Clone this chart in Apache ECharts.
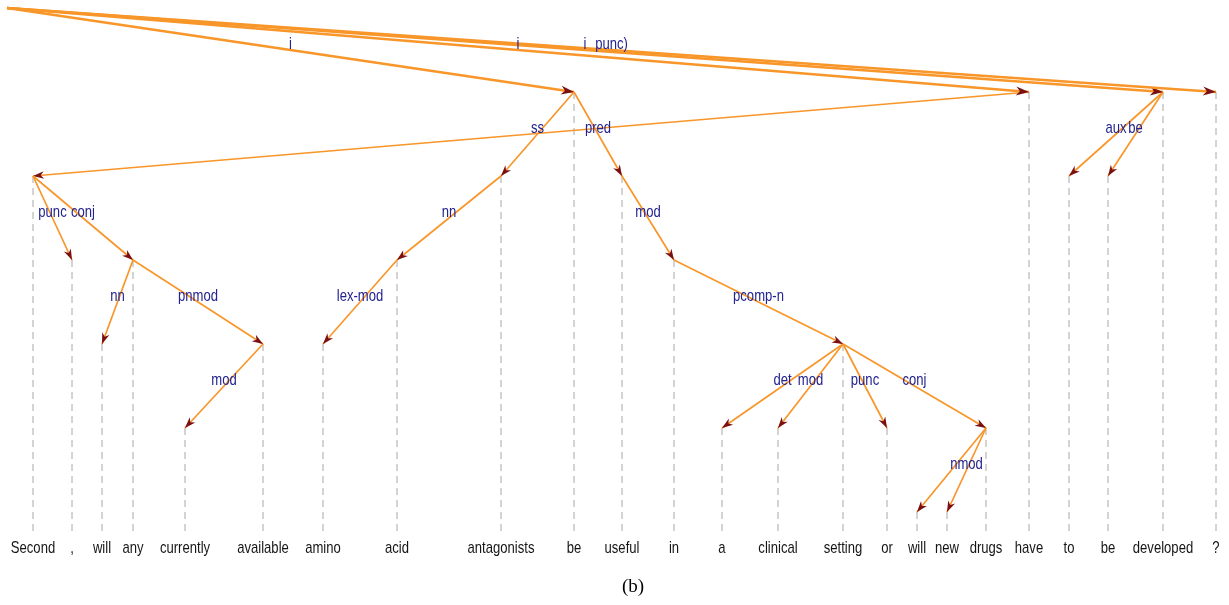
<!DOCTYPE html>
<html>
<head>
<meta charset="utf-8">
<script src="https://cdn.jsdelivr.net/npm/echarts@6/dist/echarts.min.js"></script>
<style>html,body{margin:0;padding:0;background:#fff}#c{width:1229px;height:605px}</style>
</head>
<body>
<div id="c"></div>
<script>
// ---- data ----
const words = ["Second", ",", "will", "any", "currently", "available", "amino", "acid", "antagonists", "be", "useful", "in", "a", "clinical", "setting", "or", "will", "new", "drugs", "have", "to", "be", "developed", "?"];
// token position along the sentence axis
const tokenPos = [33, 72, 102, 133, 185, 263, 323, 397, 501, 574, 622, 674, 722, 778, 843, 887, 917, 947, 986, 1029, 1069, 1108, 1163, 1216];
// head of each token (1-based index, 0 = root)
const heads = [20, 1, 4, 1, 6, 4, 8, 9, 10, 0, 10, 11, 15, 15, 12, 15, 19, 19, 15, 0, 23, 23, 0, 0];
// dependency relation labels
const relations = ["", "punc", "nn", "conj", "mod", "pnmod", "lex-mod", "nn", "ss", "i", "pred", "mod", "det", "mod", "pcomp-n", "punc", "", "nmod", "conj", "i", "aux", "be", "i", "punc)"];
const rootPos = 7;
const caption = "(b)";

// ---- derived ----
function depthOf(i) { let d = 0, h = heads[i]; while (h !== 0) { d++; h = heads[h - 1]; } return d + 1; }
const depths = words.map((w, i) => depthOf(i));
const baseDepth = 6.24, wordDepth = 6.43;

const edgeData = words.map((w, i) => {
  const h = heads[i];
  return [tokenPos[i], depths[i], h === 0 ? rootPos : tokenPos[h - 1], h === 0 ? 0 : depths[h - 1], i];
});
const tokenData = words.map((w, i) => [tokenPos[i], depths[i], i]);

const ORANGE = '#f8962a', ARROW = '#7a1010', LBL = '#23238f';
const FONT = '17px "Liberation Sans", Arial, sans-serif';
const SX = 0.77;
const chart = echarts.init(document.getElementById('c'));
chart.setOption({
  animation: false,
  title: { text: caption, left: 628, top: 573, textAlign: 'center',
    textStyle: { fontFamily: 'Liberation Serif', fontSize: 19, fontWeight: 'normal', color: '#000' } },
  grid: { left: 0, right: 0, top: 8, bottom: 9 },
  xAxis: { type: 'value', min: 0, max: 1229, show: false },
  yAxis: { type: 'value', min: 0, max: 7, inverse: true, show: false },
  series: [
    { // dashed guide lines + words
      type: 'custom', z: 1, data: tokenData,
      renderItem(params, api) {
        const top = api.coord([api.value(0), api.value(1)]);
        const bot = api.coord([api.value(0), baseDepth]);
        const wp = api.coord([api.value(0), wordDepth]);
        return { type: 'group', children: [
          { type: 'line', shape: { x1: top[0], y1: top[1], x2: bot[0], y2: bot[1] },
            style: { stroke: '#a8a8a8', lineWidth: 1, lineDash: [7, 5] } },
          { type: 'text', x: wp[0], y: wp[1], scaleX: SX,
            style: { text: words[api.value(2)], align: 'center', verticalAlign: 'middle',
              fill: '#151515', font: FONT } }
        ] };
      }
    },
    { // edges with arrows
      type: 'custom', z: 2, data: edgeData,
      renderItem(params, api) {
        const c = api.coord([api.value(0), api.value(1)]);
        const p = api.coord([api.value(2), api.value(3)]);
        const dx = c[0] - p[0], dy = c[1] - p[1];
        const len = Math.hypot(dx, dy), ux = dx / len, uy = dy / len;
        const isRoot = api.value(3) === 0;
        const L = isRoot ? 13 : 11, W = isRoot ? 4.5 : 3.8;
        const b = [c[0] - ux * L, c[1] - uy * L];
        return { type: 'group', children: [
          { type: 'line', shape: { x1: p[0], y1: p[1], x2: c[0], y2: c[1] },
            style: { stroke: ORANGE, lineWidth: isRoot ? 2.6 : 1.7 } },
          { type: 'polygon', shape: { points: [c, [b[0] - uy * W, b[1] + ux * W], [c[0] - ux * L * 0.7, c[1] - uy * L * 0.7], [b[0] + uy * W, b[1] - ux * W]] },
            style: { fill: ARROW } }
        ] };
      }
    },
    { // relation labels
      type: 'custom', z: 3, data: edgeData,
      renderItem(params, api) {
        const c = api.coord([api.value(0), api.value(1)]);
        const p = api.coord([api.value(2), api.value(3)]);
        return { type: 'text', x: (p[0] + c[0]) / 2, y: (p[1] + c[1]) / 2 - 6, scaleX: SX,
          style: { text: relations[api.value(4)], align: 'center', verticalAlign: 'middle',
            fill: LBL, font: FONT } };
      }
    }
  ]
});
</script>
</body>
</html>
